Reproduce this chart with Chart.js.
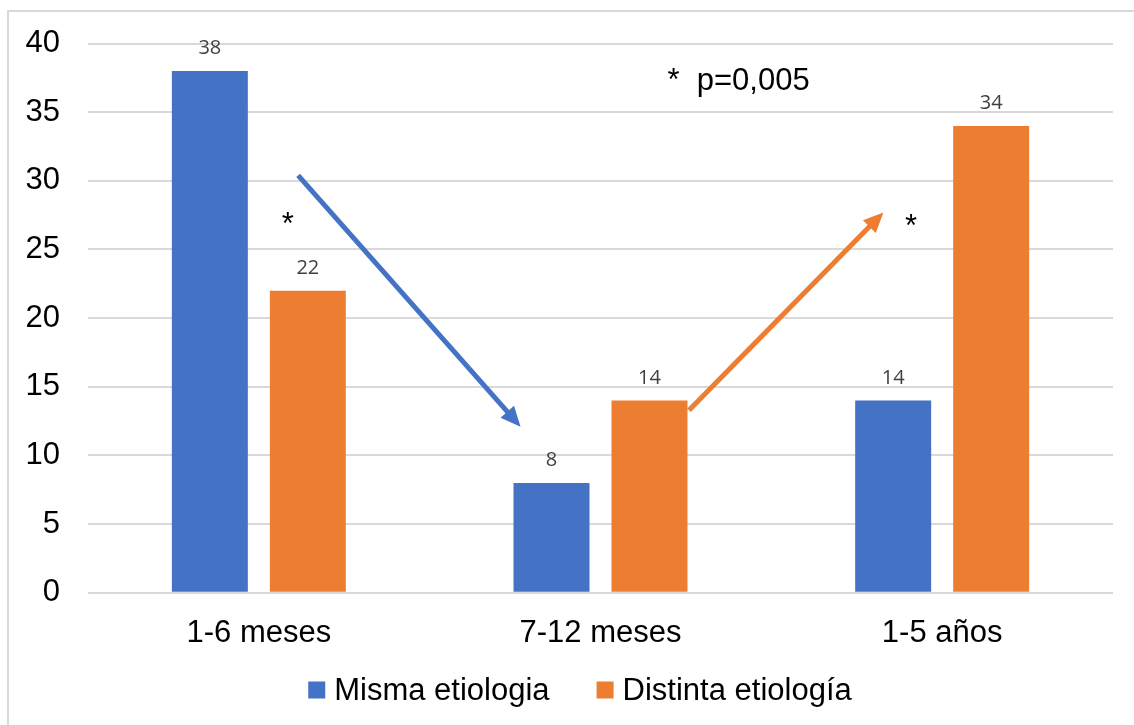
<!DOCTYPE html>
<html>
<head>
<meta charset="utf-8">
<script src="https://cdn.jsdelivr.net/npm/chart.js@4.4.1/dist/chart.umd.min.js"></script>
<style>
  html, body { margin: 0; padding: 0; background: #fff; }
  #wrap { position: relative; width: 1134px; height: 725px; overflow: hidden; }
  #frame { position: absolute; left: 7px; top: 10px; width: 1200px; height: 800px;
           border-left: 2px solid #d9d9d9; border-top: 2px solid #d9d9d9; pointer-events: none; }
  canvas { position: absolute; left: 0; top: 0; }
</style>
</head>
<body>
<div id="wrap">
  <canvas id="c" width="1134" height="725"></canvas>
  <div id="frame"></div>
</div>
<script>
// ---- data ----
const categories = ['1-6 meses', '7-12 meses', '1-5 años'];
const seriesNames = ['Misma etiologia', 'Distinta etiología'];
const misma = [38, 8, 14];
const distinta = [22, 14, 34];
const yTicks = [0, 5, 10, 15, 20, 25, 30, 35, 40];
// annotations in data space: [categoryIndex (fractional), value]
const arrows = [
  { from: [0.115, 30.4], to: [0.766, 12.1], color: '#4472C4' },
  { from: [1.259, 13.3], to: [1.828, 27.7], color: '#ED7D31' }
];
const notes = [
  { at: [0.085, 26.15], text: '*', align: 'center' },
  { at: [1.909, 26.0], text: '*', align: 'center' },
  { at: [1.196, 36.65], text: '*  p=0,005', align: 'left' }
];

const FONT = '"Liberation Sans", Arial, sans-serif';

const overlay = {
  id: 'overlay',
  afterDatasetsDraw(chart) {
    const ctx = chart.ctx;
    const xs = chart.scales.x, ys = chart.scales.y;
    ctx.save();
    // data labels
    ctx.font = '20px "Open Sans", sans-serif';
    ctx.fillStyle = '#404040';
    ctx.textAlign = 'center';
    ctx.textBaseline = 'alphabetic';
    chart.data.datasets.forEach((ds, di) => {
      chart.getDatasetMeta(di).data.forEach((bar, i) => {
        ctx.fillText(String(ds.data[i]), bar.x, bar.y - 17);
      });
    });
    // arrows
    arrows.forEach(a => {
      const x1 = xs.getPixelForValue(a.from[0]), y1 = ys.getPixelForValue(a.from[1]);
      const x2 = xs.getPixelForValue(a.to[0]), y2 = ys.getPixelForValue(a.to[1]);
      const ang = Math.atan2(y2 - y1, x2 - x1);
      const headLen = 20, headW = 9;
      const bx = x2 - headLen * Math.cos(ang), by = y2 - headLen * Math.sin(ang);
      ctx.strokeStyle = a.color;
      ctx.fillStyle = a.color;
      ctx.lineWidth = 5;
      ctx.lineCap = 'butt';
      ctx.beginPath();
      ctx.moveTo(x1, y1);
      ctx.lineTo(bx + 2 * Math.cos(ang), by + 2 * Math.sin(ang));
      ctx.stroke();
      ctx.beginPath();
      ctx.moveTo(x2, y2);
      ctx.lineTo(bx + headW * Math.sin(ang), by - headW * Math.cos(ang));
      ctx.lineTo(bx - headW * Math.sin(ang), by + headW * Math.cos(ang));
      ctx.closePath();
      ctx.fill();
    });
    // notes
    ctx.font = '31px ' + FONT;
    ctx.fillStyle = '#000';
    ctx.textBaseline = 'alphabetic';
    notes.forEach(n => {
      ctx.textAlign = n.align;
      ctx.fillText(n.text, xs.getPixelForValue(n.at[0]), ys.getPixelForValue(n.at[1]));
    });
    // legend (drawn from the datasets)
    ctx.font = '31px ' + FONT;
    ctx.textAlign = 'left';
    ctx.textBaseline = 'middle';
    const box = 17, gap = 9, itemGap = 47, cy = 690, center = 580;
    const items = chart.data.datasets.map(ds => ({
      label: ds.label, color: ds.backgroundColor, w: box + gap + ctx.measureText(ds.label).width
    }));
    const total = items.reduce((s, it) => s + it.w, 0) + itemGap * (items.length - 1);
    let x = center - total / 2;
    items.forEach(it => {
      ctx.fillStyle = it.color;
      ctx.fillRect(x, cy - box / 2, box, box);
      ctx.fillStyle = '#000';
      ctx.fillText(it.label, x + box + gap, cy + 1);
      x += it.w + itemGap;
    });
    ctx.restore();
  }
};

new Chart(document.getElementById('c'), {
  type: 'bar',
  data: {
    labels: categories,
    datasets: [
      { label: seriesNames[0], data: misma, backgroundColor: '#4472C4', borderWidth: 0 },
      { label: seriesNames[1], data: distinta, backgroundColor: '#ED7D31', borderWidth: 0 }
    ]
  },
  options: {
    responsive: false,
    animation: false,
    devicePixelRatio: 1,
    layout: { padding: { left: 0, right: 21, top: 36, bottom: 51 } },
    datasets: { bar: { categoryPercentage: 0.5736, barPercentage: 0.7755 } },
    scales: {
      x: {
        grid: { display: false, drawTicks: false },
        border: { display: false },
        ticks: { font: { family: FONT, size: 31 }, color: '#000', padding: 22 }
      },
      y: {
        min: 0, max: 40,
        afterBuildTicks(axis) { axis.ticks = yTicks.map(v => ({ value: v })); },
        afterFit(axis) { axis.width = 88; },
        grid: { color: '#d9d9d9', lineWidth: 2, drawTicks: false },
        border: { display: false },
        ticks: { font: { family: FONT, size: 31, lineHeight: 1 }, color: '#000', padding: 28 }
      }
    },
    plugins: {
      legend: { display: false },
      tooltip: { enabled: false }
    }
  },
  plugins: [overlay]
});
</script>
</body>
</html>
